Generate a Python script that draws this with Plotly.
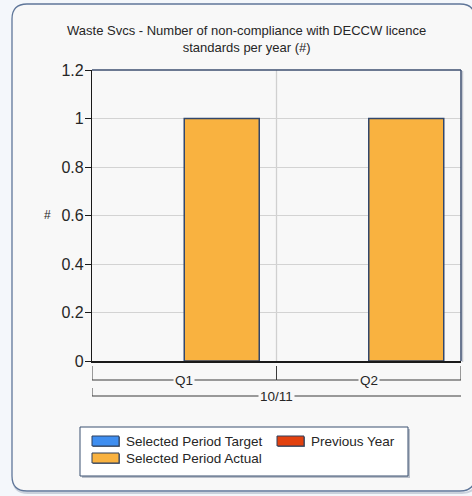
import plotly.graph_objects as go

# ---- data ----
periods = ["Q1", "Q2"]
year_label = "10/11"
target_values = [None, None]
previous_year_values = [None, None]
actual_values = [1, 1]

series_names = ["Selected Period Target", "Previous Year", "Selected Period Actual"]
series_colors = ["#3f8ef0", "#e2410f", "#f9b240"]

title_lines = ["Waste Svcs - Number of non-compliance with DECCW licence",
               "standards per year (#)"]
y_title = "#"

W, H = 472, 496
FONT = "Liberation Sans, Arial, sans-serif"
TEXT = "#262626"
EDGE = "#33476b"


def px(x):
    return x / W


def py(y):
    return 1 - y / H


def rounded_rect(x0, y0, x1, y1, r):
    """SVG path (paper coords) for a rounded rectangle given in pixels."""
    pts = [
        ("M", [(x0 + r, y0)]),
        ("L", [(x1 - r, y0)]),
        ("Q", [(x1, y0), (x1, y0 + r)]),
        ("L", [(x1, y1 - r)]),
        ("Q", [(x1, y1), (x1 - r, y1)]),
        ("L", [(x0 + r, y1)]),
        ("Q", [(x0, y1), (x0, y1 - r)]),
        ("L", [(x0, y0 + r)]),
        ("Q", [(x0, y0), (x0 + r, y0)]),
    ]
    out = []
    for cmd, coords in pts:
        out.append(cmd + " ".join(f"{px(a):.5f},{py(b):.5f}" for a, b in coords))
    return " ".join(out) + " Z"


fig = go.Figure()

# Target and previous year share one slot, actual takes the other
fig.add_trace(go.Bar(x=periods, y=target_values, name=series_names[0],
                     offsetgroup="a", marker=dict(color=series_colors[0],
                     line=dict(color=EDGE, width=1.5))))
fig.add_trace(go.Bar(x=periods, y=previous_year_values, name=series_names[1],
                     offsetgroup="a", marker=dict(color=series_colors[1],
                     line=dict(color=EDGE, width=1.5))))
fig.add_trace(go.Bar(x=periods, y=actual_values, name=series_names[2],
                     offsetgroup="b", marker=dict(color=series_colors[2],
                     line=dict(color=EDGE, width=1.5))))

plot_l, plot_r, plot_t, plot_b = 92, 461, 70, 361

shapes = []
# outer rounded panel with a soft shadow
shapes.append(dict(type="path", xref="paper", yref="paper",
                   path=rounded_rect(13, 6, 477, 493, 15),
                   line=dict(color="#c9d1dc", width=2), fillcolor="rgba(0,0,0,0)",
                   layer="below"))
shapes.append(dict(type="path", xref="paper", yref="paper",
                   path=rounded_rect(12, 4, 475, 491, 15),
                   line=dict(color="#5f7699", width=1.3), fillcolor="#f8f8f8",
                   layer="below"))

# vertical separator between periods
shapes.append(dict(type="line", xref="x", yref="paper", x0=0.5, x1=0.5,
                   y0=py(plot_b), y1=py(plot_t),
                   line=dict(color="#d0d0d0", width=1.3), layer="below"))
# top and right plot frame
shapes.append(dict(type="line", xref="paper", yref="paper",
                   x0=px(plot_l), x1=px(plot_r), y0=py(plot_t), y1=py(plot_t),
                   line=dict(color="#3e4f70", width=1.5)))
shapes.append(dict(type="line", xref="paper", yref="paper",
                   x0=px(plot_r + 1.5), x1=px(plot_r + 1.5), y0=py(plot_t + 1), y1=py(plot_b + 1),
                   line=dict(color="#c4c8d0", width=1.5)))
shapes.append(dict(type="line", xref="paper", yref="paper",
                   x0=px(plot_r), x1=px(plot_r), y0=py(plot_t), y1=py(plot_b),
                   line=dict(color="#3e4f70", width=1.5)))

# category brackets under the axis
BR = "#3a3a3a"
q_y, q_top = 380, 366
for i in range(len(periods)):
    a, b = i - 0.5, i + 0.5
    shapes.append(dict(type="line", xref="x", yref="paper", x0=a, x1=b,
                       y0=py(q_y), y1=py(q_y), line=dict(color=BR, width=1)))
    for xx in (a, b):
        shapes.append(dict(type="line", xref="x", yref="paper", x0=xx, x1=xx,
                           y0=py(q_top), y1=py(q_y), line=dict(color=BR, width=1)))
yr_y, yr_top = 396, 388
shapes.append(dict(type="line", xref="x", yref="paper", x0=-0.5, x1=len(periods) - 0.5,
                   y0=py(yr_y), y1=py(yr_y), line=dict(color=BR, width=1)))
shapes.append(dict(type="line", xref="x", yref="paper", x0=-0.5, x1=-0.5,
                   y0=py(yr_top), y1=py(yr_y), line=dict(color=BR, width=1)))

annotations = []
for i, p in enumerate(periods):
    annotations.append(dict(x=i, y=py(q_y), xref="x", yref="paper", text=p,
                            showarrow=False, bgcolor="#f8f8f8", borderpad=1,
                            yanchor="middle", xanchor="center",
                            font=dict(family=FONT, size=13.5, color=TEXT)))
annotations.append(dict(x=(len(periods) - 1) / 2, y=py(yr_y), xref="x", yref="paper",
                        text=year_label, showarrow=False, bgcolor="#f8f8f8", borderpad=1,
                        yanchor="middle", xanchor="center",
                        font=dict(family=FONT, size=13.5, color=TEXT)))

# title
annotations.append(dict(x=px(246), y=py(39), xref="paper", yref="paper",
                        text="<br>".join(title_lines), showarrow=False,
                        align="center", yanchor="middle",
                        font=dict(family=FONT, size=13, color=TEXT)))
# y axis title
annotations.append(dict(x=px(42), y=py(215), xref="paper", yref="paper",
                        text=y_title, showarrow=False, yanchor="middle",
                        font=dict(family=FONT, size=12, color=TEXT)))

# legend box
lg_l, lg_t, lg_r, lg_b = 80, 427, 408, 476
shapes.append(dict(type="rect", xref="paper", yref="paper",
                   x0=px(lg_l + 2), x1=px(lg_r + 2), y0=py(lg_t + 2), y1=py(lg_b + 2),
                   line=dict(width=0), fillcolor="#b9bfc9"))
shapes.append(dict(type="rect", xref="paper", yref="paper",
                   x0=px(lg_l), x1=px(lg_r), y0=py(lg_t), y1=py(lg_b),
                   line=dict(color="#3a5070", width=1), fillcolor="white"))
legend_slots = [(92, 441), (277, 441), (92, 458)]
for name, color, (sx, sy) in zip(series_names, series_colors, legend_slots):
    shapes.append(dict(type="rect", xref="paper", yref="paper",
                       x0=px(sx + 1), x1=px(sx + 28), y0=py(sy - 4), y1=py(sy + 6),
                       line=dict(width=0), fillcolor="#6a7280"))
    shapes.append(dict(type="rect", xref="paper", yref="paper",
                       x0=px(sx), x1=px(sx + 27), y0=py(sy - 5), y1=py(sy + 5),
                       line=dict(color="#2d3e5c", width=1), fillcolor=color))
    annotations.append(dict(x=px(sx + 32), y=py(sy), xref="paper", yref="paper",
                            text=name, showarrow=False, xanchor="left", yanchor="middle",
                            font=dict(family=FONT, size=13.5, color=TEXT)))

fig.update_layout(
    width=W, height=H,
    margin=dict(l=0, r=0, t=0, b=0, pad=0, autoexpand=False),
    paper_bgcolor="#f4f7fb",
    plot_bgcolor="white",
    barmode="group",
    bargap=0.187,
    bargroupgap=0,
    showlegend=False,
    shapes=shapes,
    annotations=annotations,
    xaxis=dict(domain=[px(plot_l), px(plot_r)], range=[-0.5, len(periods) - 0.5],
               showticklabels=False, showgrid=False, zeroline=False,
               showline=True, linecolor="#1a1a1a", linewidth=2,
               ticks="", fixedrange=True, automargin=False),
    yaxis=dict(domain=[py(plot_b), py(plot_t)], range=[0, 1.2], dtick=0.2,
               tickformat="~g",
               showgrid=True, gridcolor="#d3d3d3", gridwidth=1,
               zeroline=False, showline=True, linecolor="#1a1a1a", linewidth=1.3,
               ticks="outside", ticklen=6, tickcolor="#1a1a1a", tickwidth=1,
               ticklabelstandoff=-2,
               tickfont=dict(family=FONT, size=16, color=TEXT),
               fixedrange=True, automargin=False),
)

fig.write_html("out.html")
